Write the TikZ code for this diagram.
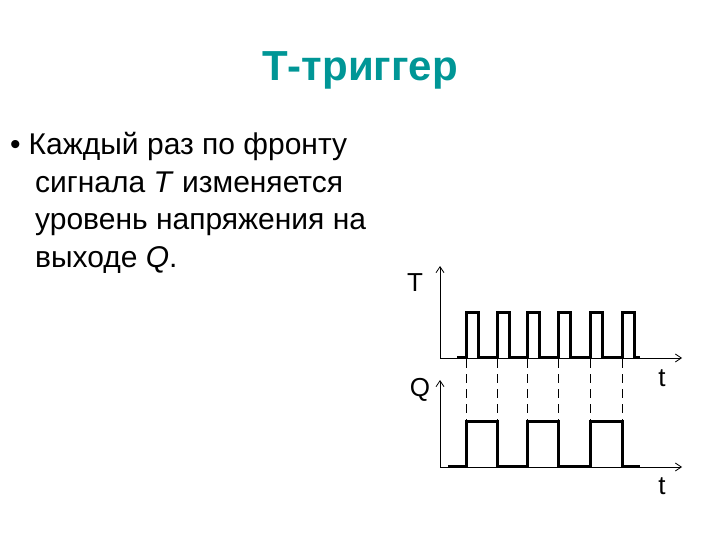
\documentclass[tikz,border=0pt]{standalone}
\usepackage{fontspec}
\setmainfont{Liberation Sans}
\usetikzlibrary{arrows.meta}
\definecolor{teal1}{RGB}{0,150,150}
\begin{document}
\begin{tikzpicture}[x=1pt,y=-1pt,
  axis/.style={line width=0.8pt,-{Straight Barb[length=6pt,width=8pt]}},
  sig/.style={line width=3pt,line join=miter},
  edge/.style={line width=0.8pt,dashed,dash pattern=on 9pt off 6pt},
  lbl/.style={font=\fontsize{26}{30}\selectfont,inner sep=0pt}]
\useasboundingbox (0,0) rectangle (720,540);
\node[font=\fontsize{42}{48}\selectfont\bfseries,text=teal1] (title) at (360,70) {Т-триггер};
\node[anchor=north west,font=\fontsize{30}{37.7}\selectfont,align=left,inner sep=0pt] (txt) at (10,132)
{•\hspace{8pt}Каждый раз по фронту\\
\hspace{25pt}сигнала \textit{T} изменяется\\
\hspace{25pt}уровень напряжения на\\
\hspace{25pt}выходе \textit{Q}.};
% axes
\coordinate (To) at (440,358); \coordinate (Ty) at (440,266); \coordinate (Tx) at (682,358);
\coordinate (Qo) at (440,467); \coordinate (Qy) at (440,380); \coordinate (Qx) at (682,467);
\draw[axis] (To) -- (Ty);
\draw[axis] (To) -- (Tx);
\draw[axis] (Qo) -- (Qy);
\draw[axis] (Qo) -- (Qx);
\node[lbl] (lT) at (415,283) {T};
\node[lbl] (lt1) at (662,378) {t};
\node[lbl] (lQ) at (420,390) {Q};
\node[lbl] (lt2) at (662,486) {t};
% T signal
\draw[sig] (457,357)
  \foreach \r in {466,497,527,558,590,622} { -- (\r,357) -- (\r,312) -- (\r+12,312) -- (\r+12,357) } -- (640,357);
% Q signal
\draw[sig] (448,466) -- (466,466) -- (466,421) -- (497,421) -- (497,466) -- (527,466) -- (527,421) -- (558,421)
  -- (558,466) -- (590,466) -- (590,421) -- (622,421) -- (622,466) -- (640,466);
% dashed
\foreach \r in {466,497,527,558,590,622} \draw[edge] (\r,359) -- (\r,421);
\end{tikzpicture}
\end{document}
